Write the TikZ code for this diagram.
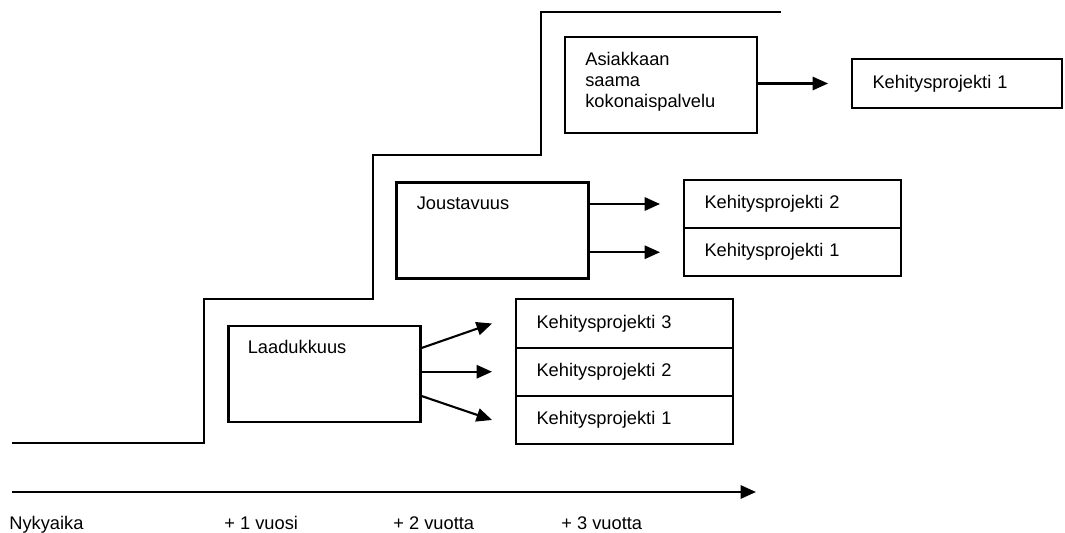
\documentclass[tikz,border=0pt]{standalone}
\usepackage{fontspec}
\setmainfont{Liberation Sans}
\usetikzlibrary{arrows.meta,calc,positioning}

\begin{document}
\begin{tikzpicture}[
  x=0.02cm, y=-0.02cm,
  every node/.style={font=\fontsize{10.4}{11.9}\selectfont},
  line/.style={line width=1.2pt},
  theme/.style={draw, line width=1.2pt, minimum width=3.84cm, minimum height=1.92cm, inner sep=0pt},
  themetext/.style={anchor=north west, inner sep=0pt, align=left},
  proj/.style={draw, line width=1.2pt, minimum height=0.965cm, inner xsep=0.41cm,
    outer sep=0pt, text width=3.52cm, align=left},
  arr/.style={line width=1.2pt, -{Triangle[length=8.8pt, width=7.6pt]}}
]
\useasboundingbox (0,0) rectangle (1065,533);

%================================================
% STAIRCASE
%================================================
\draw[line] (12,443) -| (204,299) -| (373,155) -| (541,12) -- (781,12);

%================================================
% LOWER STEP:  Laadukkuus
%================================================
\node[theme] (laatu) at (324.5,374) {};
\node[themetext] (laatu-t) at ($(laatu.north west)+(20,15)$) {Laadukkuus};

\node[proj] (lk3) at (624.5,323.5) {Kehitysprojekti 3};
\node[proj, below=0pt of lk3] (lk2) {Kehitysprojekti 2};
\node[proj, below=0pt of lk2] (lk1) {Kehitysprojekti 1};

\draw[arr] ($(laatu.east)+(0,-26)$) -- ($(lk3.west)+(-24,0)$);
\draw[arr] (laatu.east |- lk2.west) -- ($(lk2.west)+(-24,0)$);
\draw[arr] ($(laatu.east)+(0,22)$) -- ($(lk1.west)+(-24,0)$);

%================================================
% MIDDLE STEP:  Joustavuus
%================================================
\node[theme] (joust) at (492.5,230.5) {};
\node[themetext] (joust-t) at ($(joust.north west)+(21,15)$) {Joustavuus};

\node[proj] (jk2) at (792.5,204) {Kehitysprojekti 2};
\node[proj, below=0pt of jk2] (jk1) {Kehitysprojekti 1};

\foreach \k in {jk2,jk1}
  \draw[arr] (\k.west -| joust.east) -- ($(\k.west)+(-24,0)$);

%================================================
% UPPER STEP:  Asiakkaan saama kokonaispalvelu
%================================================
\node[theme] (asiak) at (661,85) {};
\node[themetext] (asiak-t) at ($(asiak.north west)+(21,16)$)
  {Asiakkaan\\saama\\kokonaispalvelu};

\node[proj, text width=3.38cm] (ak1) at (957,83.5) {Kehitysprojekti 1};

\draw[arr] (ak1.west -| asiak.east) -- ($(ak1.west)+(-24,0)$);

%================================================
% TIME AXIS
%================================================
\coordinate (t0) at (12,492);
\coordinate (t1) at (756,492);
\draw[arr] (t0) -- (t1);

\foreach \x/\t [count=\i] in {9/Nykyaika, 224/{+ 1 vuosi}, 393/{+ 2 vuotta}, 561/{+ 3 vuotta}}
  \node[anchor=base west, inner sep=0pt] (year\i) at (\x,529) {\t};

\end{tikzpicture}
\end{document}
